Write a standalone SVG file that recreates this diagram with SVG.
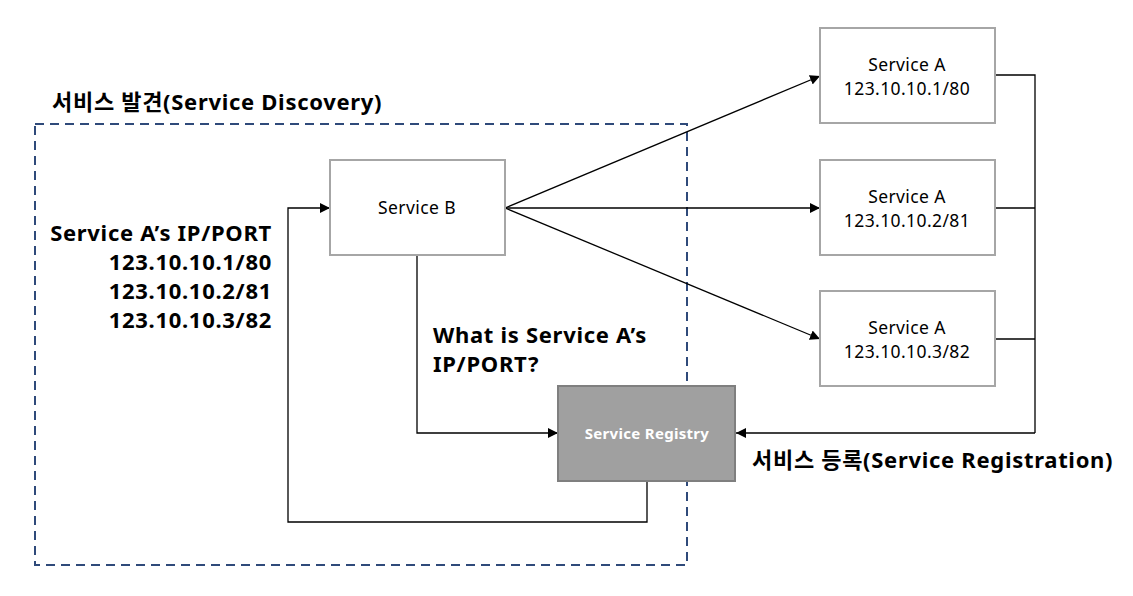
<svg xmlns="http://www.w3.org/2000/svg" width="1133" height="596" viewBox="0 0 1133 596">
<defs>
<marker id="ah" viewBox="0 0 10 10" refX="10" refY="5" markerWidth="10" markerHeight="10" markerUnits="userSpaceOnUse" orient="auto">
<path d="M0,0 L10,5 L0,10 z" fill="#000"/>
</marker>
<style>
.box{fill:#fff;stroke:#A6A6A6;stroke-width:2}
.reg{fill:#A0A0A0;stroke:#7F7F7F;stroke-width:2}
.t{font-family:"Noto Sans","Noto Sans CJK KR","Liberation Sans",sans-serif;fill:#000}
.n{font-size:17.5px;letter-spacing:0.4px;text-anchor:middle}
.b{font-size:22px;font-weight:bold;letter-spacing:0.7px}
.c{fill:none;stroke:#000;stroke-width:1.3}
</style>
</defs>
<rect width="1133" height="596" fill="#fff"/>
<g id="discovery-boundary">
<rect x="35" y="124" width="652" height="441" fill="none" stroke="#2F4A7A" stroke-width="2" stroke-dasharray="9,6"/>
<text class="t b" x="52" y="110">서비스 발견(Service Discovery)</text>
</g>
<g id="connectors">
<line class="c" x1="505" y1="208" x2="820" y2="76" marker-end="url(#ah)"/>
<line class="c" x1="505" y1="208" x2="820" y2="208" marker-end="url(#ah)"/>
<line class="c" x1="505" y1="208" x2="820" y2="339" marker-end="url(#ah)"/>
<polyline class="c" points="995,75 1035,75 1035,433"/>
<polyline class="c" points="995,208 1035,208"/>
<polyline class="c" points="995,339 1035,339"/>
<polyline class="c" points="1035,433 736,433" marker-end="url(#ah)"/>
<polyline class="c" points="417,255 417,433 558,433" marker-end="url(#ah)"/>
<polyline class="c" points="647,481 647,522 288,522 288,208 330,208" marker-end="url(#ah)"/>
</g>
<g id="service-b">
<rect class="box" x="330" y="160" width="175" height="95"/>
<text class="t n" x="417" y="214">Service B</text>
</g>
<g id="service-a1">
<rect class="box" x="820" y="28" width="175" height="95"/>
<text class="t n" x="907" y="71">Service A</text>
<text class="t n" x="907" y="95">123.10.10.1/80</text>
</g>
<g id="service-a2">
<rect class="box" x="820" y="160" width="175" height="95"/>
<text class="t n" x="907" y="203">Service A</text>
<text class="t n" x="907" y="227">123.10.10.2/81</text>
</g>
<g id="service-a3">
<rect class="box" x="820" y="291" width="175" height="95"/>
<text class="t n" x="907" y="334">Service A</text>
<text class="t n" x="907" y="358">123.10.10.3/82</text>
</g>
<g id="service-registry">
<rect class="reg" x="558" y="386" width="177" height="95"/>
<text class="t" x="647" y="439" font-size="15" font-weight="bold" text-anchor="middle" letter-spacing="0.3" style="fill:#fff">Service Registry</text>
</g>
<g id="labels">
<text class="t b" x="272" y="241" text-anchor="end">Service A’s IP/PORT</text>
<text class="t b" x="272" y="270" text-anchor="end">123.10.10.1/80</text>
<text class="t b" x="272" y="299" text-anchor="end">123.10.10.2/81</text>
<text class="t b" x="272" y="328" text-anchor="end">123.10.10.3/82</text>
<text class="t b" x="433" y="343">What is Service A’s</text>
<text class="t b" x="433" y="372">IP/PORT?</text>
<text class="t b" x="752" y="468">서비스 등록(Service Registration)</text>
</g>
</svg>
